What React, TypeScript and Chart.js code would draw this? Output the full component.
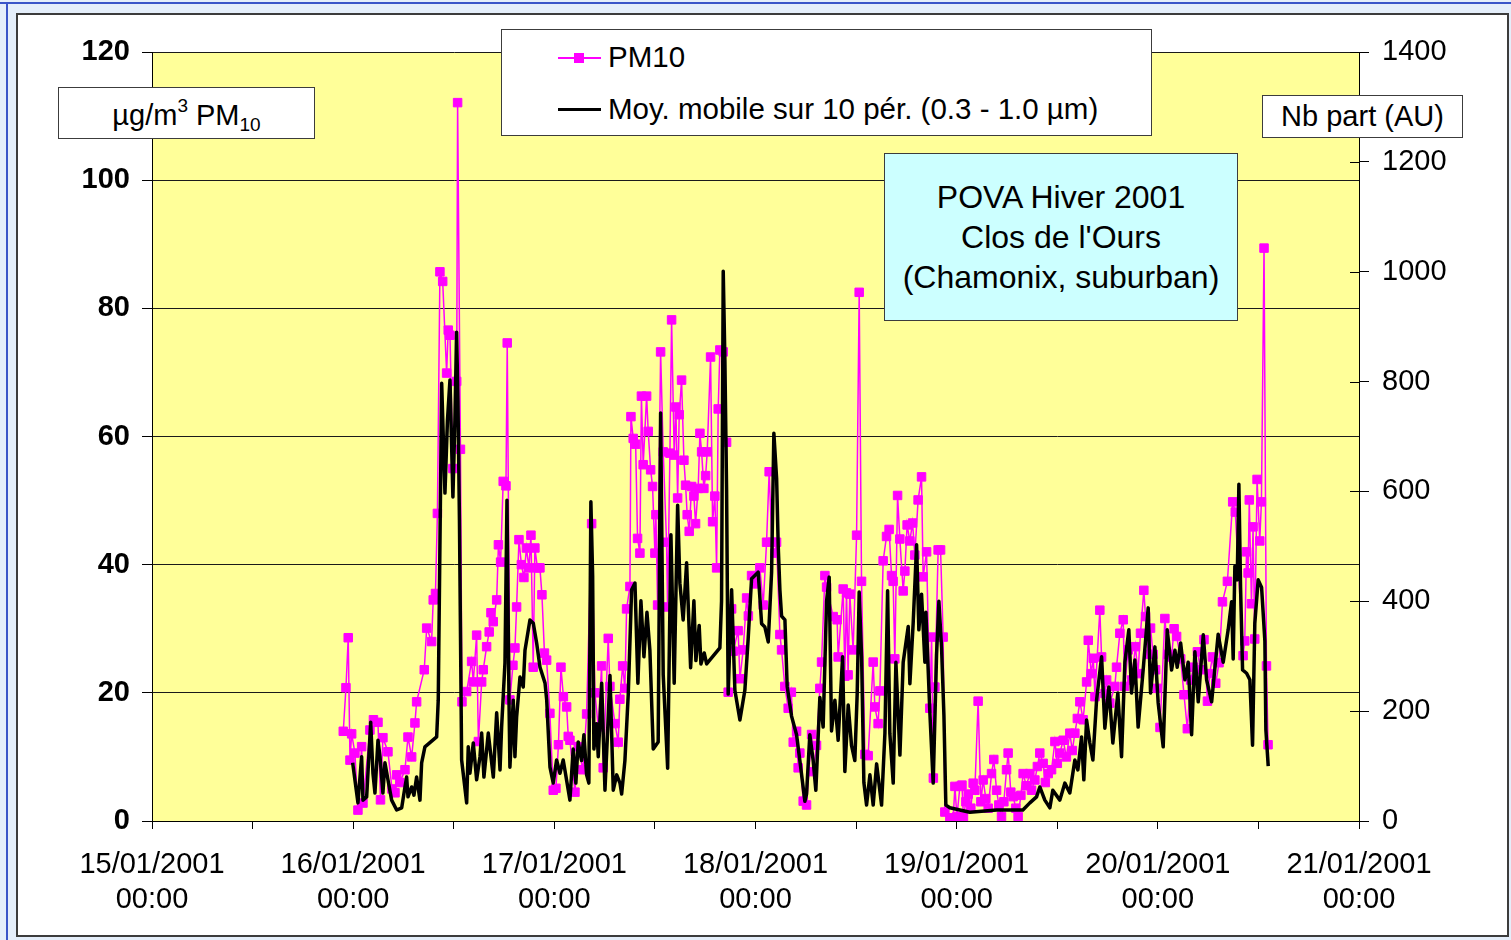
import React, { useEffect, useRef } from 'react';
import { Chart, registerables } from 'chart.js';

Chart.register(...registerables);

const FONT = '"Liberation Sans", Arial, Helvetica, sans-serif';

// x values are hours since 15/01/2001 00:00
const xTickHours = [0, 12, 24, 36, 48, 60, 72, 84, 96, 108, 120, 132, 144];
const yLeftTicks = [0, 20, 40, 60, 80, 100, 120];
const yRightTicks = [0, 200, 400, 600, 800, 1000, 1200, 1400];

// PM10 (µg/m3) readings
const pm10Hours = [
  22.82, 23.14, 23.41, 23.62, 23.82, 24.21, 24.57, 25.01, 25.17, 26.0,
  26.42, 26.96, 27.26, 27.55, 28.15, 28.63, 28.99, 29.19, 29.58, 30.18,
  30.54, 30.98, 31.37, 31.57, 32.48, 32.77, 33.36, 33.55, 33.82, 34.05,
  34.35, 34.68, 35.15, 35.34, 35.55, 35.9, 36.35, 36.46, 36.8, 36.98,
  37.54, 38.13, 38.33, 38.73, 38.94, 39.33, 39.52, 39.92, 40.23, 40.44,
  40.71, 41.12, 41.33, 41.59, 41.9, 42.23, 42.38, 42.7, 43.06, 43.3,
  43.5, 43.78, 44.07, 44.37, 44.67, 44.97, 45.21, 45.48, 45.68, 45.98,
  46.28, 46.52, 46.82, 47.08, 47.47, 47.87, 48.19, 48.49, 48.79, 49.08,
  49.47, 49.66, 49.86, 50.46, 50.85, 51.41, 51.85, 52.45, 52.84, 53.24,
  53.64, 53.83, 54.43, 54.63, 55.23, 55.62, 55.82, 56.15, 56.42, 56.62,
  57.02, 57.14, 57.41, 57.7, 57.93, 58.21, 58.39, 58.6, 59.01, 59.2,
  59.49, 59.72, 60.0, 60.12, 60.32, 60.68, 60.99, 61.39, 61.51, 61.79,
  61.99, 62.3, 62.5, 62.71, 62.9, 63.18, 63.46, 63.66, 63.85, 64.09,
  64.38, 64.65, 64.85, 65.16, 65.37, 65.57, 65.84, 66.05, 66.24, 66.64,
  66.88, 67.15, 67.36, 67.55, 67.75, 68.15, 68.55, 68.74, 69.15, 69.34,
  69.93, 70.14, 70.53, 70.94, 71.15, 71.53, 71.99, 72.52, 72.92, 73.32,
  73.63, 73.95, 74.31, 74.51, 74.91, 75.11, 75.5, 75.9, 76.28, 76.5,
  76.9, 77.09, 77.29, 77.69, 78.09, 78.69, 78.88, 79.28, 79.68, 79.88,
  80.28, 80.48, 81.27, 81.74, 81.86, 82.46, 82.66, 82.86, 83.05, 83.25,
  83.65, 84.06, 84.37, 84.65, 85.05, 85.44, 86.04, 86.24, 86.63, 86.84,
  87.23, 87.63, 87.94, 88.23, 88.42, 88.62, 88.95, 89.22, 89.62, 89.82,
  90.09, 90.41, 90.74, 91.01, 91.4, 91.81, 92.0, 92.41, 92.8, 93.01,
  93.22, 93.4, 93.79, 94.08, 94.39, 94.59, 95.19, 95.58, 95.79, 96.03,
  96.39, 96.63, 96.81, 97.1, 97.38, 97.69, 97.97, 98.17, 98.56, 98.89,
  99.16, 99.48, 99.76, 100.16, 100.43, 100.76, 101.03, 101.35, 101.63, 101.95,
  102.14, 102.46, 102.74, 103.06, 103.33, 103.66, 103.93, 104.31, 104.73, 104.93,
  105.33, 105.63, 105.92, 106.32, 106.58, 106.92, 107.32, 107.72, 108.01, 108.31,
  108.71, 109.09, 109.5, 109.8, 110.1, 110.4, 110.7, 111.09, 111.5, 111.7,
  112.06, 112.3, 112.5, 113.08, 113.29, 113.7, 113.89, 114.27, 114.87, 115.07,
  115.47, 115.87, 116.03, 116.46, 116.86, 117.33, 117.63, 117.93, 118.33, 118.53,
  118.83, 119.13, 119.43, 119.73, 119.93, 120.26, 120.84, 121.22, 121.64, 121.94,
  122.24, 122.73, 123.12, 123.52, 123.92, 124.28, 124.72, 125.12, 125.51, 125.92,
  126.19, 126.51, 126.91, 127.3, 127.71, 128.3, 128.93, 129.24, 130.17, 130.37,
  130.58, 130.77, 130.91, 131.17, 131.36, 131.56, 131.84, 132.16, 132.36, 132.67,
  132.96, 133.15,
];
const pm10Values = [
  14.0, 20.8, 28.6, 9.5, 13.6, 10.6, 1.7, 11.6, 2.8, 14.2,
  15.8, 15.4, 3.3, 13.0, 10.8, 5.0, 4.4, 7.2, 6.0, 8.0,
  13.1, 10.0, 15.3, 18.6, 23.6, 30.1, 28.0, 34.5, 35.5, 48.0,
  85.7, 84.2, 69.9, 76.6, 75.8, 55.0, 68.6, 112.1, 58.0, 18.6,
  20.2, 24.9, 21.7, 29.0, 12.4, 21.7, 23.6, 27.2, 29.5, 32.5,
  31.1, 34.5, 43.1, 40.4, 53.0, 52.3, 74.6, 18.9, 24.3, 27.0,
  33.4, 43.9, 40.0, 38.0, 42.6, 39.5, 44.6, 24.0, 42.6, 39.5,
  39.5, 35.3, 26.2, 25.1, 16.8, 4.8, 5.1, 11.9, 24.0, 19.4,
  17.8, 13.2, 12.6, 4.5, 11.6, 8.0, 16.7, 46.4, 20.0, 14.7,
  24.2, 8.3, 28.5, 21.0, 15.2, 12.3, 19.0, 24.2, 20.7, 33.1,
  36.6, 63.1, 59.7, 58.8, 44.1, 41.8, 66.3, 55.6, 66.3, 60.8,
  54.8, 52.2, 41.8, 47.8, 33.7, 73.2, 57.6, 43.5, 33.4, 57.4,
  78.2, 57.1, 64.6, 50.4, 63.4, 68.8, 56.3, 52.4, 47.8, 45.2,
  52.2, 50.7, 46.4, 51.9, 60.5, 57.6, 51.9, 53.9, 57.6, 72.4,
  46.7, 50.7, 39.5, 64.3, 73.5, 73.2, 59.1, 20.1, 33.1, 26.5,
  29.7, 22.2, 26.7, 34.8, 32.0, 38.3, 37.0, 39.5, 33.7, 43.5,
  54.5, 43.5, 41.8, 43.5, 29.1, 26.7, 21.0, 17.6, 20.1, 12.3,
  14.0, 8.3, 10.6, 3.1, 2.5, 13.5, 7.7, 11.8, 20.7, 24.8,
  38.3, 36.5, 31.9, 31.4, 25.6, 36.2, 22.6, 35.6, 22.8, 35.4,
  26.7, 44.6, 82.5, 37.4, 10.4, 10.2, 24.8, 17.8, 15.2, 20.3,
  40.6, 44.4, 45.5, 38.3, 37.4, 25.3, 50.8, 44.0, 35.9, 39.0,
  46.2, 43.7, 46.5, 41.5, 50.1, 53.7, 38.1, 42.0, 17.6, 28.7,
  6.7, 20.9, 42.3, 42.3, 28.7, 1.4, 0.5, 0.3, 5.4, 0.7,
  5.4, 5.6, 0.7, 3.0, 4.2, 2.0, 5.9, 4.8, 18.7, 3.0,
  6.4, 3.5, 2.0, 7.4, 9.6, 4.8, 2.5, 0.7, 3.0, 8.0,
  10.6, 4.5, 3.8, 2.0, 0.7, 4.0, 7.4, 5.5, 7.4, 4.8,
  6.4, 8.5, 10.6, 9.0, 6.0, 7.4, 8.0, 12.4, 9.0, 10.6,
  12.6, 10.0, 13.7, 11.0, 13.7, 16.0, 18.6, 15.8, 21.7, 28.2,
  23.0, 25.4, 19.4, 32.9, 25.6, 19.9, 22.0, 18.4, 21.0, 24.0,
  29.3, 31.4, 21.0, 26.7, 22.0, 27.2, 23.0, 29.3, 36.0, 31.9,
  26.0, 30.1, 26.0, 23.6, 20.7, 14.6, 31.6, 26.0, 25.6, 30.0,
  28.8, 25.3, 19.7, 14.4, 22.0, 24.0, 26.4, 23.6, 28.3, 18.7,
  23.0, 25.6, 21.5, 24.7, 34.2, 37.4, 49.8, 48.2, 25.8, 28.1,
  42.0, 38.7, 50.1, 33.9, 45.9, 28.4, 53.3, 43.7, 49.8, 89.4,
  24.2, 11.9,
];

// Particle number, moving average over 10 periods (0.3 - 1.0 µm), AU
const countHours = [
  23.94, 24.57, 25.01, 25.17, 25.61, 26.09, 26.36, 26.6, 26.96, 27.2,
  27.55, 27.79, 28.15, 28.59, 29.19, 29.79, 30.18, 30.38, 30.54, 30.98,
  31.25, 31.57, 31.97, 32.17, 32.56, 33.96, 34.15, 34.56, 34.95, 35.25,
  35.55, 35.9, 36.14, 36.34, 36.5, 36.68, 36.94, 37.54, 37.73, 37.93,
  38.33, 38.73, 39.13, 39.33, 39.6, 40.12, 40.72, 41.12, 41.52, 41.71,
  42.11, 42.35, 42.59, 42.7, 43.1, 43.3, 43.5, 43.9, 44.29, 44.5,
  45.09, 45.49, 45.89, 46.29, 46.89, 47.09, 47.48, 47.87, 48.27, 48.67,
  49.06, 49.86, 50.25, 50.57, 50.85, 51.25, 51.53, 51.85, 52.12, 52.36,
  52.57, 52.72, 53.05, 53.24, 53.65, 54.04, 54.36, 54.64, 55.03, 55.44,
  55.83, 56.03, 56.42, 56.82, 57.22, 57.62, 57.97, 58.33, 58.69, 59.05,
  59.4, 59.8, 60.39, 60.68, 60.99, 61.52, 61.91, 62.3, 62.71, 62.98,
  63.37, 63.78, 64.26, 64.65, 64.89, 65.28, 65.49, 65.88, 66.17, 67.75,
  67.95, 68.15, 68.35, 68.55, 68.74, 69.15, 69.54, 70.14, 70.73, 71.13,
  71.53, 71.93, 72.32, 72.73, 73.12, 73.52, 73.92, 74.19, 74.52, 74.71,
  74.91, 75.11, 75.51, 75.78, 76.3, 76.9, 77.29, 77.89, 78.09, 78.48,
  78.88, 79.2, 79.68, 80.07, 80.48, 80.79, 81.07, 81.47, 81.86, 82.39,
  82.66, 83.06, 83.46, 83.85, 84.13, 84.37, 84.66, 84.93, 85.25, 85.65,
  86.04, 86.45, 87.04, 87.44, 87.76, 88.03, 88.43, 88.75, 89.23, 89.62,
  90.22, 90.42, 90.81, 91.22, 91.49, 91.81, 92.21, 92.33, 92.8, 93.2,
  93.6, 93.88, 94.2, 94.48, 94.71, 95.19, 97.57, 100.76, 103.9, 104.73,
  105.53, 105.92, 106.52, 107.12, 107.47, 108.31, 108.91, 109.5, 110.1, 110.46,
  110.9, 111.17, 111.5, 111.89, 112.25, 112.69, 113.29, 113.68, 114.16, 114.63,
  115.23, 115.67, 116.07, 116.54, 116.86, 117.26, 117.65, 118.25, 118.85, 119.13,
  119.65, 120.04, 120.64, 121.12, 121.64, 122.04, 122.31, 122.72, 123.23, 123.62,
  124.03, 124.42, 124.82, 125.42, 125.82, 126.42, 127.2, 127.8, 128.39, 128.8,
  128.99, 129.19, 129.47, 129.67, 129.87, 130.11, 130.59, 130.98, 131.3, 131.57,
  131.97, 132.38, 132.77, 132.89, 133.17,
];
const countValues = [
  106, 33, 117, 38, 44, 180, 87, 51, 147, 117,
  51, 106, 75, 38, 20, 24, 62, 80, 44, 62,
  47, 80, 38, 106, 135, 153, 220, 797, 597, 730,
  803, 590, 730, 890, 766, 548, 111, 33, 135, 87,
  142, 75, 117, 160, 80, 160, 80, 197, 93, 171,
  288, 584, 220, 98, 220, 117, 189, 262, 244, 311,
  366, 360, 324, 280, 251, 220, 98, 69, 111, 87,
  111, 38, 131, 69, 144, 110, 157, 84, 69, 581,
  447, 131, 177, 117, 251, 56, 164, 265, 56, 84,
  69, 49, 110, 231, 421, 433, 251, 401, 299, 380,
  311, 131, 144, 743, 266, 96, 521, 251, 575, 433,
  366, 470, 279, 401, 292, 356, 286, 306, 286, 315,
  401, 1001, 837, 603, 231, 421, 238, 184, 238, 333,
  441, 447, 453, 359, 353, 326, 453, 706, 623, 501,
  421, 373, 366, 245, 191, 157, 110, 36, 49, 157,
  110, 56, 225, 171, 400, 444, 164, 220, 147, 299,
  90, 211, 137, 110, 231, 417, 299, 70, 29, 84,
  29, 104, 29, 160, 419, 159, 69, 289, 120, 289,
  354, 250, 360, 503, 348, 413, 289, 380, 198, 69,
  302, 400, 315, 192, 29, 24, 16, 20, 20, 33,
  44, 62, 38, 24, 56, 38, 69, 51, 111, 93,
  153, 75, 184, 142, 111, 220, 299, 169, 244, 142,
  233, 117, 289, 348, 233, 293, 171, 275, 388, 233,
  317, 215, 135, 348, 275, 311, 280, 324, 257, 289,
  157, 308, 217, 339, 257, 217, 340, 289, 348, 399,
  295, 464, 439, 613, 425, 275, 269, 257, 138, 360,
  439, 425, 328, 166, 100,
];

const tickDateLabel = (h: number): string[] | string => {
  if (h % 24 !== 0) return '';
  const day = 15 + h / 24;
  return [`${String(day).padStart(2, '0')}/01/2001`, '00:00'];
};

export default function App() {
  const canvasRef = useRef<HTMLCanvasElement | null>(null);

  useEffect(() => {
    if (!canvasRef.current) return;
    const pm10Data = pm10Hours.map((h, i) => ({ x: h, y: pm10Values[i] }));
    const countData = countHours.map((h, i) => ({ x: h, y: countValues[i] }));

    const plotBg = {
      id: 'plotBg',
      beforeDraw(chart: any) {
        const { ctx, chartArea } = chart;
        ctx.save();
        ctx.fillStyle = '#FFFF99';
        ctx.fillRect(chartArea.left, chartArea.top, chartArea.right - chartArea.left, chartArea.bottom - chartArea.top);
        ctx.restore();
      },
    };
    const innerTicks = {
      id: 'innerTicks',
      afterDraw(chart: any) {
        const s = chart.scales.y1;
        const ctx = chart.ctx;
        ctx.save();
        ctx.strokeStyle = '#000';
        ctx.lineWidth = 1;
        s.ticks.forEach((t: any) => {
          const y = Math.round(s.getPixelForValue(t.value)) + 0.5;
          ctx.beginPath();
          ctx.moveTo(s.left - 9, y);
          ctx.lineTo(s.left, y);
          ctx.stroke();
        });
        ctx.restore();
      },
    };

    const chart = new Chart(canvasRef.current, {
      type: 'line',
      data: {
        datasets: [
          {
            label: 'Moy. mobile sur 10 pér. (0.3 - 1.0 µm)',
            data: countData,
            yAxisID: 'y1',
            borderColor: '#000000',
            borderWidth: 3.5,
            borderJoinStyle: 'round',
            pointRadius: 0,
            tension: 0,
            order: 0,
          },
          {
            label: 'PM10',
            data: pm10Data,
            yAxisID: 'y',
            borderColor: '#FF00FF',
            borderWidth: 1.5,
            pointStyle: 'rect',
            pointRadius: 6,
            pointBorderWidth: 1,
            pointBackgroundColor: '#FF00FF',
            pointBorderColor: '#FF00FF',
            tension: 0,
            order: 1,
          },
        ],
      },
      options: {
        responsive: false,
        animation: false,
        devicePixelRatio: 1,
        layout: { padding: { top: 39, left: 0, right: 0, bottom: 0 } },
        plugins: { legend: { display: false }, tooltip: { enabled: false } },
        scales: {
          x: {
            type: 'linear',
            min: xTickHours[0],
            max: xTickHours[xTickHours.length - 1],
            afterBuildTicks: (s: any) => {
              s.ticks = xTickHours.map((v) => ({ value: v }));
            },
            afterFit: (s: any) => {
              s.height = 116;
            },
            ticks: {
              autoSkip: false,
              maxRotation: 0,
              minRotation: 0,
              padding: 19,
              color: '#000',
              font: { family: FONT, size: 29, lineHeight: 1.2 },
              callback: (v: any) => tickDateLabel(Number(v)),
            },
            grid: { drawOnChartArea: false, drawTicks: true, tickLength: 8, tickColor: '#000' },
            border: { display: true, color: '#000', width: 1 },
          },
          y: {
            type: 'linear',
            position: 'left',
            min: 0,
            max: 120,
            afterBuildTicks: (s: any) => {
              s.ticks = yLeftTicks.map((v) => ({ value: v }));
            },
            afterFit: (s: any) => {
              s.width = 136;
            },
            ticks: {
              padding: 12,
              color: '#000',
              font: { family: FONT, size: 29, weight: 'bold' },
              callback: (v: any) => String(v),
            },
            grid: { color: '#1a1a1a', lineWidth: 1, drawTicks: true, tickLength: 10, tickColor: '#000' },
            border: { display: true, color: '#000', width: 1 },
          },
          y1: {
            type: 'linear',
            position: 'right',
            min: 0,
            max: 1400,
            afterBuildTicks: (s: any) => {
              s.ticks = yRightTicks.map((v) => ({ value: v }));
            },
            afterFit: (s: any) => {
              s.width = 150;
            },
            ticks: {
              padding: 13,
              color: '#000',
              font: { family: FONT, size: 29 },
              callback: (v: any) => String(v),
            },
            grid: { drawOnChartArea: false, drawTicks: true, tickLength: 10, tickColor: '#000' },
            border: { display: true, color: '#000', width: 1 },
          },
        },
      },
      plugins: [plotBg, innerTicks],
    } as any);

    return () => chart.destroy();
  }, []);

  const textBase: React.CSSProperties = { fontFamily: FONT, color: '#000', whiteSpace: 'nowrap' };

  return (
    <div style={{ position: 'fixed', left: 0, top: 0, width: 1511, height: 940, background: '#E4EEFA', overflow: 'hidden' }}>
      <div style={{ position: 'absolute', left: 0, top: 2, width: 1511, height: 2, background: '#3A55C8' }} />
      <div style={{ position: 'absolute', left: 6, top: 2, width: 2, height: 938, background: '#3A55C8' }} />
      <div
        style={{
          position: 'absolute', left: 16, top: 13, width: 1493, height: 924,
          background: '#fff', border: '2px solid #3c3c3c', boxSizing: 'border-box',
        }}
      />
      <canvas ref={canvasRef} width={1493} height={924} style={{ position: 'absolute', left: 16, top: 13, width: 1493, height: 924 }} />

      {/* left unit label */}
      <div
        style={{
          ...textBase, position: 'absolute', left: 58, top: 87, width: 257, height: 52,
          background: '#fff', border: '1px solid #3c3c3c', boxSizing: 'border-box',
          display: 'flex', alignItems: 'center', justifyContent: 'center', fontSize: 29, paddingTop: 4,
        }}
      >
        <span>
          µg/m<span style={{ fontSize: 19, position: 'relative', top: -13 }}>3</span> PM
          <span style={{ fontSize: 19, position: 'relative', top: 6 }}>10</span>
        </span>
      </div>

      {/* right unit label */}
      <div
        style={{
          ...textBase, position: 'absolute', left: 1262, top: 95, width: 201, height: 43,
          background: '#fff', border: '1px solid #3c3c3c', boxSizing: 'border-box',
          display: 'flex', alignItems: 'center', justifyContent: 'center', fontSize: 29,
        }}
      >
        Nb part (AU)
      </div>

      {/* legend */}
      <div
        style={{
          position: 'absolute', left: 501, top: 29, width: 651, height: 107,
          background: '#fff', border: '1px solid #3c3c3c', boxSizing: 'border-box',
        }}
      >
        <div style={{ position: 'absolute', left: 56, top: 27, width: 43, height: 2, background: '#FF00FF' }} />
        <div style={{ position: 'absolute', left: 72, top: 23, width: 10, height: 10, background: '#FF00FF' }} />
        <div style={{ ...textBase, position: 'absolute', left: 106, top: 10, fontSize: 29.5, lineHeight: '34px' }}>PM10</div>
        <div style={{ position: 'absolute', left: 56, top: 78, width: 43, height: 3, background: '#000' }} />
        <div style={{ ...textBase, position: 'absolute', left: 106, top: 62, fontSize: 29.5, lineHeight: '34px' }}>
          Moy. mobile sur 10 pér. (0.3 - 1.0 µm)
        </div>
      </div>

      {/* title box */}
      <div
        style={{
          ...textBase, position: 'absolute', left: 884, top: 153, width: 354, height: 168,
          background: '#CCFFFF', border: '1px solid #3c3c3c', boxSizing: 'border-box',
          display: 'flex', flexDirection: 'column', alignItems: 'center', justifyContent: 'center',
          fontSize: 32, lineHeight: '40px', textAlign: 'center',
        }}
      >
        <div>POVA Hiver 2001</div>
        <div>Clos de l'Ours</div>
        <div>(Chamonix, suburban)</div>
      </div>
    </div>
  );
}
